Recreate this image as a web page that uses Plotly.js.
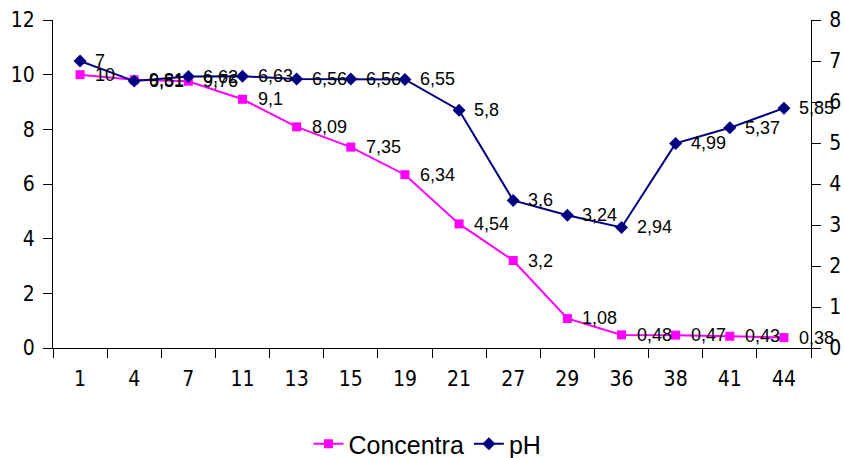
<!DOCTYPE html>
<html><head><meta charset="utf-8">
<script src="https://cdn.plot.ly/plotly-3.0.1.min.js"></script>
<style>html,body{margin:0;padding:0;background:#fff}</style>
</head><body>
<div id="chart" style="width:844px;height:458px"></div>
<script>
var categories = ["1","4","7","11","13","15","19","21","27","29","36","38","41","44"];
var concentration = [10, 9.81, 9.76, 9.1, 8.09, 7.35, 6.34, 4.54, 3.2, 1.08, 0.48, 0.47, 0.43, 0.38];
var ph = [7, 6.51, 6.62, 6.63, 6.56, 6.56, 6.55, 5.8, 3.6, 3.24, 2.94, 4.99, 5.37, 5.85];

function fmt(v){ return String(v).replace('.', ','); }

var labelFont = {family: "Liberation Sans, Arial, sans-serif", size: 18, color: "#000"};
var tickFont = {family: "DejaVu Sans Condensed, Liberation Sans Narrow, Arial Narrow, sans-serif", size: 21, color: "#000"};

var traces = [
  {
    x: categories, y: concentration, name: "Concentra", type: "scatter", mode: "lines+markers",
    line: {color: "#FF00FF", width: 2},
    marker: {symbol: "square", size: 9, color: "#FF00FF"}
  },
  {
    x: categories, y: ph, name: "pH", type: "scatter", yaxis: "y2", mode: "lines+markers",
    line: {color: "#000080", width: 2},
    marker: {symbol: "diamond", size: 10, color: "#000080"}
  }
];

var annotations = [];
categories.forEach(function(c, i){
  annotations.push({x: i, y: concentration[i], xref: "x", yref: "y", text: fmt(concentration[i]),
    showarrow: false, xanchor: "left", yanchor: "middle", xshift: 13, yshift: 0, font: labelFont});
  annotations.push({x: i, y: ph[i], xref: "x", yref: "y2", text: fmt(ph[i]),
    showarrow: false, xanchor: "left", yanchor: "middle", xshift: 13, yshift: 0, font: labelFont});
});

var layout = {
  width: 844, height: 458,
  margin: {l: 53, r: 33, t: 20, b: 110, autoexpand: false},
  paper_bgcolor: "#fff", plot_bgcolor: "#fff",
  showlegend: true,
  annotations: annotations,
  legend: {orientation: "h", x: 0.494, xanchor: "center", y: -0.293, yanchor: "middle",
           font: {family: "Liberation Sans, Arial, sans-serif", size: 25, color: "#000"}},
  xaxis: {
    type: "category", range: [-0.5, 13.5], showgrid: false, zeroline: false,
    showline: true, linecolor: "#000", linewidth: 1,
    ticks: "outside", tickson: "boundaries", ticklen: 9, tickcolor: "#000",
    tickfont: tickFont, ticklabelstandoff: 12
  },
  yaxis: {
    range: [0, 12], dtick: 2, showgrid: false, zeroline: false,
    showline: true, linecolor: "#000", linewidth: 1,
    ticks: "outside", ticklen: 9, tickcolor: "#000", tickfont: tickFont, ticklabelstandoff: 4
  },
  yaxis2: {
    range: [0, 8], dtick: 1, overlaying: "y", side: "right", showgrid: false, zeroline: false,
    showline: true, linecolor: "#000", linewidth: 1,
    ticks: "outside", ticklen: 9, tickcolor: "#000", tickfont: tickFont, ticklabelstandoff: 4
  }
};

Plotly.newPlot("chart", traces, layout, {displayModeBar: false, staticPlot: true});
</script>
</body></html>
